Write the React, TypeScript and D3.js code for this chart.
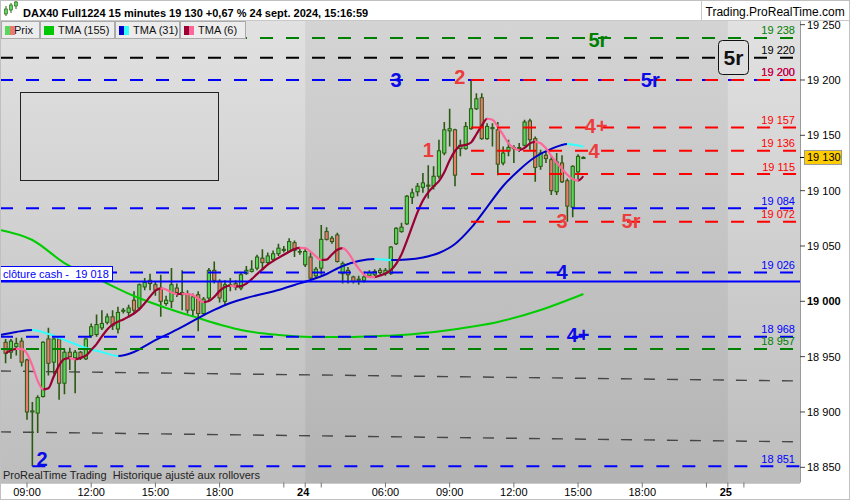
import React from "react";
import * as d3 from "d3";

// ---------- DATA ----------
// 15-minute bars, bar 0 = 23 Sept 08:00 ... bar 55 = 21:45, bar 56 = 24 Sept 02:15 ... bar 108 = 15:15
const candleOpen = [18963,18954,18959,18964,18947,18900,18899,18914,18966,18945,18966,18926,18954,18949,18954,18948,18969,18970,18976,18981,18986,18975,18991,18990,19001,18994,19013,19019,19015,19012,18998,19000,19012,19006,19007,18992,19006,18989,19003,19028,19018,19000,19015,19016,19012,19025,19027,19030,19039,19035,19038,19043,19046,19045,19053,19045,19033,19040,19023,19030,19063,19057,19060,19025,19028,19022,19020,19019,19023,19024,19028,19025,19025,19052,19063,19070,19094,19099,19103,19104,19104,19113,19134,19154,19155,19138,19138,19156,19174,19184,19147,19156,19155,19125,19136,19138,19139,19141,19163,19147,19122,19132,19128,19099,19125,19109,19085,19117,19129];
const candleHigh = [18966,18966,18967,18967,18948,18909,18915,18964,18976,18967,18967,18957,18958,18956,18955,18967,18980,18988,18992,18989,18992,18995,18994,18997,19009,19016,19021,19025,19018,19024,19005,19030,19016,19028,19010,19007,19009,19004,19030,19036,19020,19019,19021,19019,19026,19032,19037,19042,19047,19044,19046,19052,19050,19057,19055,19049,19048,19044,19031,19069,19067,19059,19062,19036,19031,19023,19023,19027,19028,19029,19030,19030,19050,19067,19071,19096,19102,19107,19116,19123,19122,19146,19162,19174,19156,19146,19162,19200,19188,19188,19161,19161,19162,19140,19146,19141,19143,19164,19165,19149,19137,19136,19131,19134,19132,19111,19123,19133,19131];
const candleLow = [18944,18948,18951,18941,18893,18851,18881,18913,18933,18934,18911,18916,18938,18917,18947,18947,18967,18968,18974,18979,18974,18971,18989,18986,18989,18992,19010,19010,19005,18986,18996,18994,19004,18992,18989,18986,18973,18987,19001,19016,18999,18997,19009,19010,19010,19024,19026,19028,19028,19033,19036,19041,19044,19044,19040,19042,19031,19019,19021,19024,19055,19052,19035,19016,19016,19016,19015,19017,19021,19022,19024,19023,19024,19051,19062,19069,19088,19095,19098,19093,19101,19111,19132,19140,19104,19131,19137,19155,19173,19146,19146,19140,19114,19123,19131,19125,19135,19140,19137,19108,19119,19125,19096,19096,19107,19072,19076,19110,19129];
const candleClose = [18953,18964,18962,18945,18900,18901,18913,18963,18944,18966,18926,18954,18950,18954,18949,18966,18977,18979,18980,18986,18978,18990,18992,18994,18992,19015,19017,19016,19010,19000,19001,19015,19008,19008,18992,19004,18989,19002,19028,19019,19003,19015,19015,19013,19024,19028,19029,19040,19035,19041,19043,19048,19047,19054,19046,19045,19045,19021,19029,19056,19056,19054,19036,19034,19024,19018,19019,19022,19026,19027,19026,19028,19049,19066,19067,19095,19098,19104,19107,19105,19113,19136,19155,19156,19114,19141,19158,19174,19183,19147,19158,19157,19124,19134,19139,19139,19138,19162,19146,19121,19134,19129,19100,19126,19108,19086,19122,19131,19130];

// TMA(31) (bar index -> value)
const tma31Bars = [-1,2,5,8,12,15,18,21,24,27,30,33,36,39,42,45,48,51,54,57,60,63,66,69,72,75,78,81,84,87,90,93,96,99,102,105,108];
const tma31Values = [18969.6,18972.3,18974.1,18970.5,18963.2,18957.8,18954.2,18950.6,18954.2,18962.3,18969.6,18976.8,18984.9,18992.2,18998.5,19003.0,19006.6,19010.2,19014.8,19019.3,19024.7,19031.9,19036.4,19038.2,19037.3,19037.8,19039.6,19043.7,19051.8,19066.3,19085.2,19104.2,19118.7,19130.4,19137.7,19142.2,19139.7];
// TMA(155)
const tma155Bars = [-1,5,11,18,24,30,36,41,44,51,57,64,70,74,83,92,100,108];
const tma155Values = [19064.5,19055.4,19034.6,19018.4,19004.8,18994.0,18984.9,18977.7,18974.1,18969.6,18967.8,18967.8,18968.7,18969.6,18974.1,18981.3,18992.2,19006.6];

// horizontal levels
const levelValues = [19238,19220,19200,19200,19157,19136,19115,19084,19072,19026,18968,18957,18851];
const levelColors = ["#008000","#000000","#0000ff","#ff0000","#ff0000","#ff0000","#ff0000","#0000ff","#ff0000","#0000ff","#0000ff","#008000","#0000ff"];
const levelFromBar = [-2,-2,-2,87,87,87,87,-2,87,-2,-2,-2,5];
const closeCash = 19018;

// sloping trend lines (bar, price) -> (bar, price)
const trendFromBar = [-1.05,-1.05];
const trendFromValue = [18937,18882];
const trendToBar = [148.5,148.5];
const trendToValue = [18928,18873];

// annotations
const annoText = ["5r","5r","3","2","4+","4","1","3","5r","4","4+","2"];
const annoBar = [110.7,120.5,73,84.9,110.4,110,79,104,116.9,104,107,6.8];
const annoValue = [19236,19200,19200,19203,19159,19136,19137,19073,19073,19027,18970,18858];
const annoColor = ["#008000","#0a0ae6","#0a0ae6","#ec3c3c","#ec3c3c","#ec3c3c","#ec3c3c","#ec3c3c","#ec3c3c","#0a0ae6","#0a0ae6","#0a0ae6"];

// axes
const priceTicks = [19250,19200,19150,19100,19050,19000,18950,18900,18850];
const timeTickBars = [4,16,28,40,52,56,59,71,83,95,107,119,131,135,138];
const timeTickLabels = ["09:00","12:00","15:00","18:00","","24","","06:00","09:00","12:00","15:00","18:00","","25",""];
const sessionStartBar = 56;
const sessionEndBar = 135;
const lastPrice = 19130;

// ---------- LAYOUT ----------
const W = 850, H = 500;
const PL = 0, PR = 800, PT = 21, PB = 482.5;
const FONT = "'Liberation Sans', Arial, Helvetica, sans-serif";

const x = d3.scaleLinear().domain([0, 108]).range([5.6, 583.4]);
const y = d3.scaleLinear().domain([18850, 19250]).range([467.3, 24.67]);

const fmt = (v: number) => `${Math.floor(v / 1000)} ${String(Math.round(v) % 1000).padStart(3, "0")}`;

function sma(arr: number[], n: number) {
  return arr.map((_, i) => d3.mean(arr.slice(Math.max(0, i - n + 1), i + 1)) as number);
}
const tma6 = sma(sma(candleClose, 3), 4);
const barIdx = candleClose.map((_, i) => i);

function slopeRects(bars: number[], vals: number[], falling: boolean) {
  const r: [number, number][] = [];
  for (let k = 1; k < bars.length; k++) {
    const f = vals[k] < vals[k - 1];
    if (f === falling) r.push([x(bars[k - 1]) - 0.4, x(bars[k]) + 0.4]);
  }
  return r;
}

const lineGen = (bars: number[]) =>
  d3.line<number>().x((_, i) => x(bars[i])).y((v) => y(v)).curve(d3.curveMonotoneX);

export default function App() {
  const tma6Path = lineGen(barIdx)(tma6) as string;
  const tma31Path = lineGen(tma31Bars)(tma31Values) as string;
  const tma155Path = lineGen(tma155Bars)(tma155Values) as string;
  const t6Fall = slopeRects(barIdx, tma6, true);
  const t6Rise = slopeRects(barIdx, tma6, false);
  const t31Fall = slopeRects(tma31Bars, tma31Values, true);
  const t31Rise = slopeRects(tma31Bars, tma31Values, false);

  const wickC = "#2a5a12";
  const xs0 = x(sessionStartBar), xs1 = x(sessionEndBar);

  return (
    <div style={{ width: W, height: H }}>
      <style>{"body{margin:0}"}</style>
      <svg width={W} height={H} style={{ display: "block" }} fontFamily={FONT}>
        <defs>
          <linearGradient id="bgL" x1="0" y1="0" x2="0" y2="1">
            <stop offset="0" stopColor="#e1e1e1" />
            <stop offset="1" stopColor="#bdbdbd" />
          </linearGradient>
          <linearGradient id="bgM" x1="0" y1="0" x2="0" y2="1">
            <stop offset="0" stopColor="#d4d4d4" />
            <stop offset="1" stopColor="#b3b3b3" />
          </linearGradient>
          <clipPath id="plot"><rect x={PL} y={PT} width={PR - PL} height={PB - PT} /></clipPath>
          <clipPath id="t6f">{t6Fall.map((r, i) => <rect key={i} x={r[0]} y={0} width={r[1] - r[0]} height={H} />)}</clipPath>
          <clipPath id="t6r">{t6Rise.map((r, i) => <rect key={i} x={r[0]} y={0} width={r[1] - r[0]} height={H} />)}</clipPath>
          <clipPath id="t31f">{t31Fall.map((r, i) => <rect key={i} x={r[0]} y={0} width={r[1] - r[0]} height={H} />)}</clipPath>
          <clipPath id="t31r">{t31Rise.map((r, i) => <rect key={i} x={r[0]} y={0} width={r[1] - r[0]} height={H} />)}</clipPath>
        </defs>

        {/* backgrounds */}
        <rect x={0} y={0} width={W} height={H} fill="#ffffff" />
        <rect x={PL} y={PT} width={PR - PL} height={PB - PT} fill="url(#bgL)" />
        <rect x={xs0} y={PT} width={xs1 - xs0} height={PB - PT} fill="url(#bgM)" />

        <g clipPath="url(#plot)">
          {/* empty drawing rectangle */}
          <rect x={20.5} y={92.5} width={198} height={88} fill="none" stroke="#222" strokeWidth={1} />

          {/* trend lines */}
          {trendFromBar.map((b, i) => (
            <line key={i} x1={x(b)} y1={y(trendFromValue[i])} x2={x(trendToBar[i])} y2={y(trendToValue[i])}
              stroke="#333" strokeOpacity={0.85} strokeWidth={1.4} strokeDasharray="11 12" />
          ))}

          {/* candles */}
          {candleClose.map((c, i) => {
            const o = candleOpen[i];
            const cx = x(i);
            const top = y(Math.max(o, c));
            const bot = y(Math.min(o, c));
            const up = c >= o;
            return (
              <g key={i}>
                <line x1={cx} x2={cx} y1={y(candleHigh[i])} y2={y(candleLow[i])} stroke={wickC} strokeWidth={1.6} />
                <rect x={cx - 1.6} y={top} width={3.2} height={Math.max(0.6, bot - top)}
                  fill={up ? "#5ad65a" : "#ea7a6e"} stroke={wickC} strokeWidth={1} />
              </g>
            );
          })}

          {/* TMA lines */}
          <path d={tma155Path} fill="none" stroke="#00cc00" strokeWidth={2} />
          <path d={tma31Path} fill="none" stroke="#0000cc" strokeWidth={2} clipPath="url(#t31r)" />
          <path d={tma31Path} fill="none" stroke="#33ffff" strokeWidth={2} clipPath="url(#t31f)" />
          <path d={tma6Path} fill="none" stroke="#990033" strokeWidth={2.2} clipPath="url(#t6r)" />
          <path d={tma6Path} fill="none" stroke="#ff6699" strokeWidth={2.2} clipPath="url(#t6f)" />

          {/* horizontal levels */}
          {levelValues.map((v, i) => (
            <line key={i} x1={levelFromBar[i] < -1 ? PL : x(levelFromBar[i])} x2={PR} y1={y(v)} y2={y(v)}
              stroke={levelColors[i]} strokeWidth={2} strokeDasharray="13 13" />
          ))}
          <line x1={PL} x2={PR} y1={y(closeCash)} y2={y(closeCash)} stroke="#0000ff" strokeWidth={2} />

          {/* level labels */}
          {levelValues.map((v, i) => (
            <text key={i} x={795} y={y(v) - 3.5} textAnchor="end" fontSize={11} fill={levelColors[i]}>{fmt(v)}</text>
          ))}

          {/* close cash label */}
          <rect x={0.5} y={266.5} width={112} height={14} fill="#ffffff" stroke="#0000ff" strokeWidth={1} />
          <text x={3} y={278} fontSize={11} fill="#0000ff" style={{ whiteSpace: "pre" }}>{`clôture cash -  ${fmt(closeCash)}`}</text>

          {/* 5r box */}
          <rect x={718.5} y={40.5} width={30} height={34} rx={4} fill="#dedede" stroke="#111" strokeWidth={1} />
          <text x={733.5} y={65} textAnchor="middle" fontSize={21} fontWeight="bold" fill="#111">5r</text>

          {/* annotations */}
          {annoText.map((t, i) => (
            <text key={i} x={x(annoBar[i])} y={y(annoValue[i]) + 7.3} textAnchor="middle" fontSize={20} fontWeight="bold" fill={annoColor[i]}>{t}</text>
          ))}

          <text x={3} y={479} fontSize={11} fill="#222" style={{ whiteSpace: "pre" }}>ProRealTime Trading  Historique ajusté aux rollovers</text>
        </g>

        {/* legend buttons */}
        <g fontSize={11} fill="#111">
          <rect x={1.5} y={21.5} width={38} height={17} fill="#ececec" stroke="#aaa" />
          <text x={14} y={34}>Prix</text>
          <rect x={5} y={26} width={5} height={9} fill="#5ad65a" />
          <rect x={10} y={26} width={5} height={9} fill="#ea7a6e" />
          <rect x={40.5} y={21.5} width={74} height={17} fill="#ececec" stroke="#aaa" />
          <rect x={44} y={26} width={10} height={9} fill="#00c800" />
          <text x={58} y={34}>TMA (155)</text>
          <rect x={115.5} y={21.5} width={64} height={17} fill="#ececec" stroke="#aaa" />
          <rect x={119} y={26} width={5} height={9} fill="#0000cc" />
          <rect x={124} y={26} width={5} height={9} fill="#33ffff" />
          <text x={133} y={34}>TMA (31)</text>
          <rect x={180.5} y={21.5} width={65} height={17} fill="#ececec" stroke="#aaa" />
          <rect x={184} y={26} width={5} height={9} fill="#990033" />
          <rect x={189} y={26} width={5} height={9} fill="#ff6699" />
          <text x={198} y={34}>TMA (6)</text>
        </g>

        {/* header */}
        <rect x={0} y={0} width={W} height={20} fill="#ffffff" />
        <line x1={0} x2={W} y1={20.5} y2={20.5} stroke="#c8c8c8" />
        <g>
          <line x1={6} x2={6} y1={6} y2={16} stroke="#2a5a12" />
          <rect x={4.5} y={9} width={3} height={5} fill="#5ad65a" stroke="#2a5a12" strokeWidth={0.6} />
          <line x1={11} x2={11} y1={3} y2={13} stroke="#2a5a12" />
          <rect x={9.5} y={5} width={3} height={5} fill="#5ad65a" stroke="#2a5a12" strokeWidth={0.6} />
          <line x1={16} x2={16} y1={1} y2={9} stroke="#2a5a12" />
          <rect x={14.5} y={2} width={3} height={4} fill="#5ad65a" stroke="#2a5a12" strokeWidth={0.6} />
        </g>
        <text x={23} y={16.5} fontSize={11} fontWeight="bold" fill="#000" style={{ whiteSpace: "pre" }}>DAX40 Full1224 15 minutes 19 130 +0,67 % 24 sept. 2024, 15:16:59</text>
        <line x1={701.5} x2={701.5} y1={0} y2={20} stroke="#c8c8c8" />
        <text x={705.5} y={16} fontSize={12} fill="#000">Trading.ProRealTime.com</text>

        {/* right axis */}
        <line x1={PR + 0.5} x2={PR + 0.5} y1={PT} y2={PB} stroke="#9a9a9a" />
        {priceTicks.map((p) => (
          <g key={p}>
            <line x1={PR} x2={PR + 5} y1={y(p)} y2={y(p)} stroke="#444" />
            <text x={807} y={y(p) + 4} fontSize={11} fontWeight={p === 19000 ? "bold" : "normal"} fill="#000">{fmt(p)}</text>
          </g>
        ))}
        <line x1={PR} x2={PR + 5} y1={y(lastPrice)} y2={y(lastPrice)} stroke="#000" />
        <rect x={804.5} y={y(lastPrice) - 7} width={37} height={14} fill="#ffcc00" stroke="#999" />
        <text x={807} y={y(lastPrice) + 4} fontSize={11} fill="#000">{fmt(lastPrice)}</text>

        {/* bottom axis */}
        <line x1={PL} x2={PR} y1={PB + 0.5} y2={PB + 0.5} stroke="#9a9a9a" />
        {timeTickBars.map((b, i) => (
          <g key={i}>
            <line x1={x(b)} x2={x(b)} y1={PB} y2={PB + 5} stroke="#777" />
            {timeTickLabels[i] && (
              <text x={x(b) - (timeTickLabels[i].length === 2 ? 2 : 0)} y={496} textAnchor="middle" fontSize={11}
                fontWeight={timeTickLabels[i].length === 2 ? "bold" : "normal"} fill="#000">{timeTickLabels[i]}</text>
            )}
          </g>
        ))}
        <rect x={0.5} y={0.5} width={W - 1} height={H - 1} fill="none" stroke="#c0c0c0" />
      </svg>
    </div>
  );
}
